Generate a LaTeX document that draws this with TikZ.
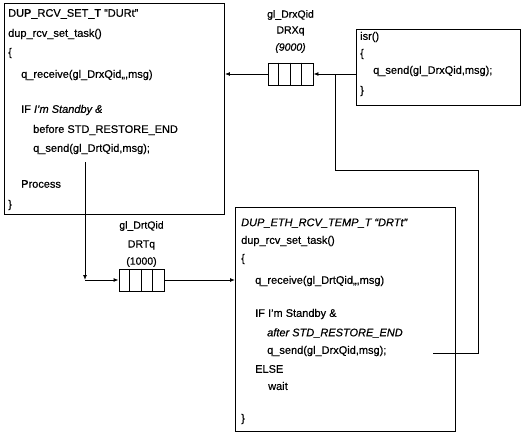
\documentclass[tikz,border=0pt]{standalone}
\usepackage{fontspec}
\setmainfont{Liberation Sans}[FakeBold=0.5]
\usetikzlibrary{positioning, arrows.meta}
\tikzset{
  >={Latex[length=5pt,width=4pt]},
  dr box/.style={draw=black, line width=0.9pt, anchor=north west, inner sep=0pt},
  dr code/.style={anchor=west, inner sep=0pt, font=\fontsize{11}{13}\selectfont},
  dr q/.style={draw=black, line width=0.9pt, minimum width=45pt, minimum height=22pt,
    inner sep=0pt},
  dr qlabel/.style={inner sep=0pt, font=\fontsize{10.5}{12}\selectfont},
  dr link/.style={draw=black, line width=0.9pt},
}

\begin{document}
\begin{tikzpicture}[x=1pt, y=-1pt]
 \useasboundingbox (0,0) rectangle (522,436);
 % task and isr frames
 \node[dr box, minimum width=220pt, minimum height=211pt] (durt) at (4,3) {};
 \node[dr box, minimum width=164pt, minimum height=76pt] (isr) at (356,29) {};
 \node[dr box, minimum width=220pt, minimum height=224pt] (drtt) at (235,207) {};
 % DURt task text
 \node[dr code] (durt-l1) at (8,14) {DUP\_RCV\_SET\_T ``DURt''};
 \node[dr code] (durt-l2) at (8,34) {dup\_rcv\_set\_task()};
 \node[dr code] (durt-l3) at (8,53) {\{};
 \node[dr code] (durt-l4) at (21,75) {q\_receive(gl\_DrxQid,,,msg)};
 \node[dr code] (durt-l5) at (21,110) {IF \textit{I'm Standby \&}};
 \node[dr code] (durt-l6) at (33,130) {before STD\_RESTORE\_END};
 \node[dr code] (durt-l7) at (33,149) {q\_send(gl\_DrtQid,msg);};
 \node[dr code] (durt-l8) at (21,184) {Process};
 \node[dr code] (durt-l9) at (8,205) {\}};
 % isr text
 \node[dr code] (isr-l1) at (360,37) {isr()};
 \node[dr code] (isr-l2) at (360,54) {\{};
 \node[dr code] (isr-l3) at (373,71) {q\_send(gl\_DrxQid,msg);};
 \node[dr code] (isr-l4) at (360,91) {\}};
 % DRTt task text
 \node[dr code] (drtt-l1) at (241,223) {\textit{DUP\_ETH\_RCV\_TEMP\_T ``DRTt''}};
 \node[dr code] (drtt-l2) at (241,241) {dup\_rcv\_set\_task()};
 \node[dr code] (drtt-l3) at (241,259) {\{};
 \node[dr code] (drtt-l4) at (255,281) {q\_receive(gl\_DrtQid,,,msg)};
 \node[dr code] (drtt-l5) at (255,314) {IF I'm Standby \&};
 \node[dr code] (drtt-l6) at (267,333) {\textit{after STD\_RESTORE\_END}};
 \node[dr code] (drtt-l7) at (267,351) {q\_send(gl\_DrxQid,msg);};
 \node[dr code] (drtt-l8) at (255,369) {ELSE};
 \node[dr code] (drtt-l9) at (268,386) {wait};
 \node[dr code] (drtt-l10) at (241,419) {\}};
 % queues
 \node[dr q] (drxq) at (290.5,74) {};
 \node[dr q] (drtq) at (141.5,280) {};
 \foreach \q in {drxq,drtq}
   \foreach \i in {1,2,3}
     \draw[dr link] ([xshift=\i*11.25pt]\q.north west) -- ([xshift=\i*11.25pt]\q.south west);
 \node[dr qlabel] (drxq-id) at (290.5,15) {gl\_DrxQid};
 \node[dr qlabel] (drxq-name) at (290.5,31) {DRXq};
 \node[dr qlabel] (drxq-size) at (290.5,48) {\textit{(9000)}};
 \node[dr qlabel] (drtq-id) at (141.5,226) {gl\_DrtQid};
 \node[dr qlabel] (drtq-name) at (141.5,245) {DRTq};
 \node[dr qlabel] (drtq-size) at (141.5,262) {(1000)};
 % connectors
 \coordinate (dsend) at (85,162);
 \coordinate (dturn) at (dsend |- drtq.west);
 \coordinate (tsend) at (433,353);
 \coordinate (tturn) at (478,170);
 \coordinate (jn) at (335,74);
 \draw[dr link, ->] (drxq.east -| isr.west) -- (drxq.east);
 \draw[dr link, ->] (drxq.west) -- (drxq.west -| durt.east);
 \draw[dr link] (tsend) -| (tturn) -| (jn);
 \draw[dr link, ->] (dsend) -- (dturn);
 \draw[dr link, ->] (dturn) -- (drtq.west);
 \draw[dr link, ->] (drtq.east) -- (drtq.east -| drtt.west);
\end{tikzpicture}
\end{document}
